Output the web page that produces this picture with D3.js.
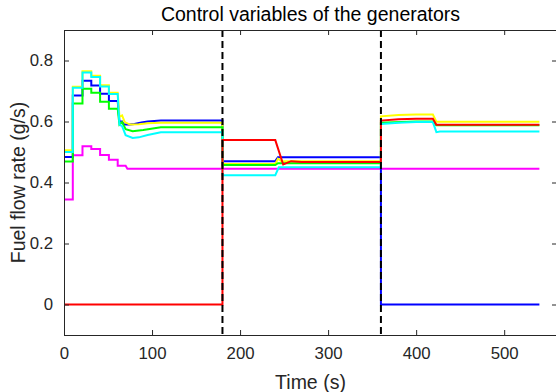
<!DOCTYPE html>
<html>
<head>
<meta charset="utf-8">
<script src="https://cdn.jsdelivr.net/npm/d3@7"></script>
<style>
  body { margin: 0; background: #fff; }
  svg { display: block; font-family: "Liberation Sans", Arial, sans-serif; }
</style>
</head>
<body>
<svg id="chart"></svg>
<script>
// fuel flow of each generator, [time (s), flow (g/s)]
const genMagenta = [[0,0.344],[10,0.344],[10,0.489],[21,0.489],[21,0.519],[31,0.519],[31,0.51],[41,0.51],[41,0.49],[51,0.49],[51,0.475],[61,0.475],[61,0.455],[70,0.455],[72,0.445],[540,0.445]];
const genBlue = [[0,0.484],[10,0.484],[10,0.685],[21,0.685],[21,0.734],[31,0.734],[31,0.718],[41,0.718],[41,0.691],[51,0.691],[51,0.667],[61,0.667],[63,0.60],[66,0.60],[68,0.59],[75,0.59],[80,0.592],[88,0.597],[95,0.600],[110,0.603],[180,0.603],[180,0.470],[240,0.470],[243,0.483],[360,0.483],[360,0],[540,0]];
const genYellow = [[0,0.506],[10,0.506],[10,0.714],[21,0.714],[21,0.765],[31,0.765],[31,0.750],[41,0.750],[41,0.719],[51,0.719],[51,0.694],[61,0.694],[63,0.615],[66,0.62],[69,0.598],[75,0.590],[85,0.591],[95,0.594],[110,0.596],[180,0.596],[180,0.461],[240,0.461],[243,0.478],[247,0.470],[360,0.470],[360,0.617],[380,0.621],[400,0.623],[419,0.623],[423,0.599],[540,0.599]];
const genGreen = [[0,0.469],[10,0.469],[10,0.659],[21,0.659],[21,0.707],[31,0.707],[31,0.694],[41,0.694],[41,0.665],[51,0.665],[51,0.642],[61,0.642],[63,0.59],[66,0.598],[70,0.575],[78,0.568],[90,0.572],[110,0.581],[180,0.581],[180,0.457],[240,0.457],[243,0.463],[360,0.463],[360,0.596],[400,0.60],[419,0.60],[423,0.588],[540,0.588]];
const genCyan = [[0,0.50],[10,0.50],[10,0.711],[21,0.711],[21,0.761],[31,0.761],[31,0.746],[41,0.746],[41,0.715],[51,0.715],[51,0.690],[61,0.690],[63,0.59],[66,0.585],[70,0.555],[78,0.546],[85,0.548],[95,0.556],[110,0.565],[180,0.565],[180,0.424],[240,0.424],[244,0.450],[360,0.450],[360,0.592],[380,0.596],[400,0.598],[419,0.598],[423,0.565],[427,0.567],[540,0.567]];
const genRed = [[0,0],[180,0],[180,0.539],[240,0.539],[249,0.459],[258,0.470],[270,0.467],[360,0.467],[360,0.603],[380,0.607],[400,0.609],[419,0.609],[423,0.589],[540,0.589]];

const seriesColors = ["#ff00ff", "#0000ff", "#ffff00", "#00ff00", "#00ffff", "#ff0000"];
const switchTimes = [180, 360];
const xTicks = [0, 100, 200, 300, 400, 500];
const yTicks = [0, 0.2, 0.4, 0.6, 0.8];

const width = 556;
const height = 392;
const margin = { left: 64, top: 30, right: 557, bottom: 335 };
const axisColor = "#262626";

const svg = d3.select("#chart").attr("width", width).attr("height", height);

const x = d3.scaleLinear().domain([0, 560]).range([margin.left, margin.right]);
const y = d3.scaleLinear().domain([-0.1, 0.9]).range([margin.bottom, margin.top]);

// data lines
const line = d3.line().x(d => x(d[0])).y(d => y(d[1]));
const allSeries = [genMagenta, genBlue, genYellow, genGreen, genCyan, genRed];

svg.append("g")
    .selectAll("path")
    .data(allSeries)
    .join("path")
    .attr("fill", "none")
    .attr("stroke", (d, i) => seriesColors[i])
    .attr("stroke-width", 2)
    .attr("stroke-linejoin", "miter")
    .attr("d", line);

// switching instants
svg.append("g")
    .selectAll("line")
    .data(switchTimes)
    .join("line")
    .attr("x1", d => x(d)).attr("x2", d => x(d))
    .attr("y1", margin.top).attr("y2", margin.bottom)
    .attr("stroke", "#000")
    .attr("stroke-width", 2)
    .attr("stroke-dasharray", "7,4");

// axes, ticks pointing inwards on all four sides
const fmtY = d => d === 0 ? "0" : d3.format(".1f")(d);

const gx = svg.append("g")
    .attr("transform", `translate(0,${margin.bottom})`)
    .call(d3.axisBottom(x).tickValues(xTicks).tickSizeInner(-5).tickSizeOuter(0).tickPadding(12));
const gxTop = svg.append("g")
    .attr("transform", `translate(0,${margin.top})`)
    .call(d3.axisTop(x).tickValues(xTicks).tickSizeInner(-5).tickSizeOuter(0).tickFormat(""));
const gy = svg.append("g")
    .attr("transform", `translate(${margin.left},0)`)
    .call(d3.axisLeft(y).tickValues(yTicks).tickFormat(fmtY).tickSizeInner(-5).tickSizeOuter(0).tickPadding(11));
const gyRight = svg.append("g")
    .attr("transform", `translate(${margin.right},0)`)
    .call(d3.axisRight(y).tickValues(yTicks).tickSizeInner(-5).tickSizeOuter(0).tickFormat(""));

[gx, gxTop, gy, gyRight].forEach(g => {
    g.select(".domain").remove();
    g.selectAll(".tick line").attr("stroke", axisColor);
    g.selectAll("text")
        .attr("fill", axisColor)
        .attr("font-size", "16.8px")
        .attr("font-family", "'Liberation Sans', Arial, sans-serif");
});

svg.append("rect")
    .attr("x", margin.left + 0.5).attr("y", margin.top + 0.5)
    .attr("width", margin.right - margin.left - 1)
    .attr("height", margin.bottom - margin.top)
    .attr("fill", "none")
    .attr("stroke", axisColor)
    .attr("stroke-width", 1);

// labels
svg.append("text")
    .attr("x", (margin.left + margin.right) / 2)
    .attr("y", 21)
    .attr("text-anchor", "middle")
    .attr("font-size", "19.5px")
    .attr("fill", "#000")
    .text("Control variables of the generators");

svg.append("text")
    .attr("x", (margin.left + margin.right) / 2)
    .attr("y", 389)
    .attr("text-anchor", "middle")
    .attr("font-size", "19.5px")
    .attr("fill", axisColor)
    .text("Time (s)");

svg.append("text")
    .attr("transform", `translate(25,${(margin.top + margin.bottom) / 2}) rotate(-90)`)
    .attr("text-anchor", "middle")
    .attr("font-size", "19.5px")
    .attr("fill", axisColor)
    .text("Fuel flow rate (g/s)");
</script>
</body>
</html>
